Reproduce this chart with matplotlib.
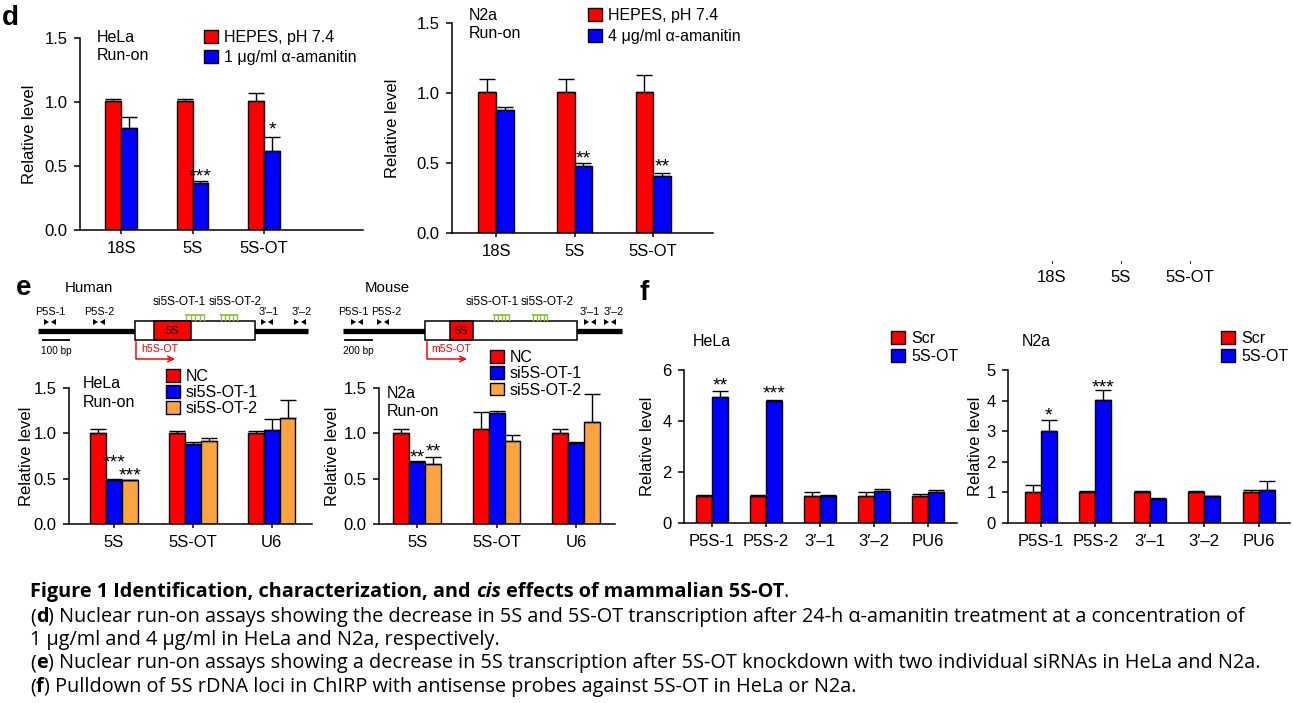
import numpy as np
import matplotlib.pyplot as plt
from matplotlib.patches import Patch, Rectangle, Polygon

W, H = 1293, 703
plt.rcParams['font.family'] = ['Liberation Sans', 'DejaVu Sans']

# ---------------- data ----------------
RED, BLUE, ORANGE = '#ff0000', '#0000ff', '#fba442'

# panel d: nuclear run-on with alpha-amanitin
d_cats = ['18S', '5S', '5S-OT']
d_hela_hepes = [1.01, 1.01, 1.01]
d_hela_hepes_err = [0.01, 0.01, 0.06]
d_hela_ama = [0.80, 0.37, 0.62]
d_hela_ama_err = [0.08, 0.01, 0.11]
d_n2a_hepes = [1.01, 1.01, 1.01]
d_n2a_hepes_err = [0.09, 0.09, 0.12]
d_n2a_ama = [0.88, 0.48, 0.41]
d_n2a_ama_err = [0.02, 0.02, 0.02]

# panel e: run-on after knockdown
e_cats = ['5S', '5S-OT', 'U6']
e_labels = ['NC', 'si5S-OT-1', 'si5S-OT-2']
e_hela_nc = [1.00, 1.00, 1.00]
e_hela_nc_err = [0.05, 0.03, 0.03]
e_hela_si1 = [0.48, 0.88, 1.04]
e_hela_si1_err = [0.02, 0.02, 0.12]
e_hela_si2 = [0.48, 0.92, 1.17]
e_hela_si2_err = [0.01, 0.03, 0.20]
e_n2a_nc = [1.00, 1.05, 1.00]
e_n2a_nc_err = [0.05, 0.18, 0.05]
e_n2a_si1 = [0.68, 1.22, 0.89]
e_n2a_si1_err = [0.01, 0.03, 0.01]
e_n2a_si2 = [0.66, 0.91, 1.13]
e_n2a_si2_err = [0.08, 0.07, 0.30]

# panel f: ChIRP pulldown
f_cats = ['P5S-1', 'P5S-2', '3\u2032\u20131', '3\u2032\u20132', 'PU6']
f_hela_scr = [1.04, 1.04, 1.04, 1.04, 1.04]
f_hela_scr_err = [0.07, 0.07, 0.16, 0.16, 0.11]
f_hela_ot = [4.96, 4.79, 1.04, 1.24, 1.20]
f_hela_ot_err = [0.21, 0.04, 0.07, 0.09, 0.10]
f_n2a_scr = [1.00, 1.00, 1.00, 1.00, 1.00]
f_n2a_scr_err = [0.23, 0.06, 0.06, 0.06, 0.09]
f_n2a_ot = [3.01, 4.02, 0.80, 0.87, 1.07]
f_n2a_ot_err = [0.36, 0.33, 0.02, 0.02, 0.29]

# significance marks: (category index, series index, text baseline y, text)
d_hela_stars = [(1, 1, 0.38, '***'), (2, 1, 0.75, '*')]
d_n2a_stars = [(1, 1, 0.50, '**'), (2, 1, 0.44, '**')]
e_hela_stars = [(0, 1, 0.62, '***'), (0, 2, 0.48, '***')]
e_n2a_stars = [(0, 1, 0.68, '**'), (0, 2, 0.75, '**')]
f_hela_stars = [(0, 1, 5.2, '**'), (1, 1, 4.9, '***')]
f_n2a_stars = [(0, 1, 3.35, '*'), (1, 1, 4.28, '***')]

FS = 11.5       # chart text
TFS = 12        # tick and axis labels

fig = plt.figure(figsize=(W / 100, H / 100), dpi=100)


def fx(x):
    return x / W


def fy(y):
    return 1 - y / H


def px_axes(x0, y0, x1, y1):
    return fig.add_axes([fx(x0), fy(y1), (x1 - x0) / W, (y1 - y0) / H])


def bar_panel(rect, cats, series, errs, colors, labels, width, xlim, ymax, yticks,
              yticklabels, ylabel_xy, legend_xy, labelspacing, stars):
    ax = px_axes(*rect)
    x = np.arange(len(cats))
    n = len(series)
    offsets = (np.arange(n) - (n - 1) / 2) * width
    for vals, err, col, off in zip(series, errs, colors, offsets):
        ax.bar(x + off, vals, width, color=col, edgecolor='black', linewidth=1.0, zorder=2)
        ax.errorbar(x + off, vals, yerr=[np.zeros(len(vals)), err], fmt='none',
                    ecolor='black', elinewidth=1.0, capsize=5.5, capthick=1.0,
                    zorder=3, clip_on=False)
    for ci, si, y, s in stars:
        ax.text(ci + offsets[si], y, s, ha='center', va='baseline', fontsize=14,
                clip_on=False)
    ax.set_xlim(*xlim)
    ax.set_ylim(0, ymax)
    ax.set_xticks(x)
    ax.set_xticklabels(cats)
    ax.set_yticks(yticks)
    ax.set_yticklabels(yticklabels)
    for side in ['top', 'right']:
        ax.spines[side].set_visible(False)
    for side in ['left', 'bottom']:
        ax.spines[side].set_linewidth(1.1)
    ax.tick_params(axis='y', direction='out', length=4, width=1.1, labelsize=TFS, pad=5)
    ax.tick_params(axis='x', direction='out', length=3, width=1.1, labelsize=TFS, pad=5)
    ax.set_ylabel('Relative level', fontsize=TFS, va='center')
    ax.yaxis.set_label_coords(fx(ylabel_xy[0]), fy(ylabel_xy[1]), transform=fig.transFigure)
    handles = [Patch(facecolor=c, edgecolor='black', linewidth=1.0) for c in colors]
    ax.legend(handles, labels, loc='upper left', bbox_to_anchor=(fx(legend_xy[0]), fy(legend_xy[1])),
              bbox_transform=fig.transFigure, frameon=False, borderpad=0, borderaxespad=0,
              handlelength=0.85, handleheight=0.85, handletextpad=0.4,
              labelspacing=labelspacing, fontsize=FS)
    return ax


# ---------------- panel d ----------------
bar_panel((80, 38, 363, 230), d_cats, [d_hela_hepes, d_hela_ama],
          [d_hela_hepes_err, d_hela_ama_err], [RED, BLUE],
          ['HEPES, pH 7.4', '1 \u03bcg/ml \u03b1-amanitin'], 0.22, (-0.573, 3.38), 1.5,
          [0, 0.5, 1.0, 1.5], ['0.0', '0.5', '1.0', '1.5'], (29, 134), (204, 30), 0.3,
          d_hela_stars)
fig.text(fx(97), fy(38), 'HeLa', fontsize=FS, va='center')
fig.text(fx(97), fy(56), 'Run-on', fontsize=FS, va='center')

bar_panel((452, 23, 713, 233), d_cats, [d_n2a_hepes, d_n2a_ama],
          [d_n2a_hepes_err, d_n2a_ama_err], [RED, BLUE],
          ['HEPES, pH 7.4', '4 \u03bcg/ml \u03b1-amanitin'], 0.225, (-0.56, 2.76), 1.5,
          [0, 0.5, 1.0, 1.5], ['0.0', '0.5', '1.0', '1.5'], (392, 128), (588, 8), 0.4,
          d_n2a_stars)
fig.text(fx(469), fy(15), 'N2a', fontsize=FS, va='center')
fig.text(fx(469), fy(34), 'Run-on', fontsize=FS, va='center')

# ---------------- panel e ----------------
bar_panel((69, 388, 312, 524), e_cats, [e_hela_nc, e_hela_si1, e_hela_si2],
          [e_hela_nc_err, e_hela_si1_err, e_hela_si2_err], [RED, BLUE, ORANGE],
          e_labels, 0.2, (-0.57, 2.51), 1.5,
          [0, 0.5, 1.0, 1.5], ['0.0', '0.5', '1.0', '1.5'], (27, 456), (166, 369), 0.06,
          e_hela_stars)
fig.text(fx(83), fy(383), 'HeLa', fontsize=FS, va='center')
fig.text(fx(83), fy(402), 'Run-on', fontsize=FS, va='center')

bar_panel((379, 388, 615, 524), e_cats, [e_n2a_nc, e_n2a_si1, e_n2a_si2],
          [e_n2a_nc_err, e_n2a_si1_err, e_n2a_si2_err], [RED, BLUE, ORANGE],
          e_labels, 0.2, (-0.48, 2.49), 1.5,
          [0, 0.5, 1.0, 1.5], ['0.0', '0.5', '1.0', '1.5'], (333, 456), (490, 350), 0.08,
          e_n2a_stars)
fig.text(fx(387), fy(393), 'N2a', fontsize=FS, va='center')
fig.text(fx(387), fy(411), 'Run-on', fontsize=FS, va='center')

# ---------------- panel f ----------------
bar_panel((684, 370, 957, 523), f_cats, [f_hela_scr, f_hela_ot],
          [f_hela_scr_err, f_hela_ot_err], [RED, BLUE],
          ['Scr', '5S-OT'], 0.296, (-0.52, 4.54), 6,
          [0, 2, 4, 6], ['0', '2', '4', '6'], (648, 446), (891, 331), 0.2,
          f_hela_stars)
fig.text(fx(693), fy(342), 'HeLa', fontsize=FS, va='center')

bar_panel((1008, 370, 1290, 523), f_cats, [f_n2a_scr, f_n2a_ot],
          [f_n2a_scr_err, f_n2a_ot_err], [RED, BLUE],
          ['Scr', '5S-OT'], 0.294, (-0.6, 4.57), 5,
          [0, 1, 2, 3, 4, 5], ['0', '1', '2', '3', '4', '5'], (976, 446), (1221, 331), 0.2,
          f_n2a_stars)
fig.text(fx(1022), fy(342), 'N2a', fontsize=FS, va='center')

# ---------------- overlay: locus diagrams, letters, caption ----------------
ov = fig.add_axes([0, 0, 1, 1], zorder=-1)
ov.set_xlim(0, W)
ov.set_ylim(H, 0)
ov.axis('off')

GREEN = '#8cc63f'


def primer(x, y):
    ov.add_patch(Polygon([[x - 6, y - 3], [x - 6, y + 3], [x - 1, y]], closed=True,
                         color='black', lw=0))
    ov.add_patch(Polygon([[x + 6, y - 3], [x + 6, y + 3], [x + 1, y]], closed=True,
                         color='black', lw=0))


def sirna(x0, x1, y):
    ov.plot([x0, x1], [y, y], color=GREEN, lw=1.3, solid_capstyle='butt')
    for xx in np.linspace(x0 + 1, x1 - 1, 5):
        ov.plot([xx, xx], [y, y + 5], color=GREEN, lw=1.0)


def locus(name, name_x, line_x, box_x, s5_x, si_x, si_lab_x, pr_x, pr_lab_x, bar_x, bar_lab,
          arrow_x, tr_lab):
    y = 331
    ov.text(name_x, 288, name, fontsize=10.8, va='center')
    ov.plot(line_x, [y, y], color='black', lw=3.8, solid_capstyle='butt', zorder=1)
    ov.add_patch(Rectangle((box_x[0], 321), box_x[1] - box_x[0], 19, facecolor='white',
                           edgecolor='black', lw=1.1, zorder=2))
    ov.add_patch(Rectangle((s5_x[0], 321), s5_x[1] - s5_x[0], 19, facecolor=RED,
                           edgecolor='black', lw=1.1, zorder=3))
    ov.text(sum(s5_x) / 2, 331, '5S', fontsize=7.8, ha='center', va='center', zorder=4)
    for (a, b), lx, lab in zip(si_x, si_lab_x, ['si5S-OT-1', 'si5S-OT-2']):
        sirna(a, b, 315)
        ov.text(lx, 302, lab, fontsize=8.6, ha='center', va='center')
    for px_, lx, lab in zip(pr_x, pr_lab_x, ['P5S-1', 'P5S-2', '3\u2032\u20131', '3\u2032\u20132']):
        primer(px_, 322)
        ov.text(lx, 312, lab, fontsize=7.8, ha='center', va='center')
    ov.plot(bar_x, [340, 340], color='black', lw=1.3)
    ov.text(bar_x[0] - 2, 351, bar_lab, fontsize=7.2, va='center')
    ov.plot([arrow_x[0], arrow_x[0], arrow_x[1] - 6], [342, 359, 359], color=RED, lw=1.1)
    ov.annotate('', xy=(arrow_x[1], 359), xytext=(arrow_x[1] - 7, 359),
                arrowprops=dict(arrowstyle='->', color=RED, lw=1.1, shrinkA=0, shrinkB=0,
                                mutation_scale=10))
    ov.text(sum(arrow_x) / 2 + 4, 349, tr_lab, fontsize=7.6, color=RED, ha='center',
            va='center')


locus('Human', 65, [38, 308], (135, 255), (154, 191), [(185, 205), (220, 238)], [179, 235],
      [50, 99, 267, 300], [50, 99, 269, 302], [43, 69], '100 bp', (136, 175), 'h5S-OT')
locus('Mouse', 365, [343, 622], (425, 577), (450, 473), [(493, 510), (532, 548)], [492, 547],
      [357, 383, 590, 610], [353, 386, 590, 614], [345, 372], '200 bp', (427, 467), 'm5S-OT')

# panel letters
ov.text(2, 25, 'd', fontsize=20, fontweight='bold', va='baseline')
ov.text(16, 295, 'e', fontsize=20, fontweight='bold', va='baseline')
ov.text(639, 300, 'f', fontsize=20, fontweight='bold', va='baseline')

# leftover tick labels
for xx, lab in zip([1052, 1121, 1190], ['18S', '5S', '5S-OT']):
    ov.plot([xx, xx], [261, 263], color='black', lw=0.6)
    ov.text(xx, 278, lab, fontsize=TFS, ha='center', va='center')

# caption
CAP = ['Open Sans', 'DejaVu Sans']
cfs = 14.3


def chain(pieces, x, y):
    t = ov.text(x, y, pieces[0][0], fontsize=cfs, family=CAP, va='baseline', **pieces[0][1])
    for s, kw in pieces[1:]:
        t = ov.annotate(s, xy=(1, 0), xycoords=t, va='bottom', fontsize=cfs, family=CAP, **kw)
    return t


B = dict(fontweight='bold')
N = dict()
chain([('Figure 1 Identification, characterization, and ', B),
       ('cis', dict(fontweight='bold', fontstyle='italic')),
       (' effects of mammalian 5S-OT', B), ('.', N)], 30, 597)
chain([('(', N), ('d', B),
       (') Nuclear run-on assays showing the decrease in 5S and 5S-OT transcription after 24-h '
        '\u03b1-amanitin treatment at a concentration of', N)], 30, 622)
chain([('1 \u03bcg/ml and 4 \u03bcg/ml in HeLa and N2a, respectively.', N)], 30, 645)
chain([('(', N), ('e', B),
       (') Nuclear run-on assays showing a decrease in 5S transcription after 5S-OT knockdown '
        'with two individual siRNAs in HeLa and N2a.', N)], 30, 668)
chain([('(', N), ('f', B),
       (') Pulldown of 5S rDNA loci in ChIRP with antisense probes against 5S-OT in HeLa or N2a.', N)],
      30, 692)

fig.savefig('out.png', dpi=100)
